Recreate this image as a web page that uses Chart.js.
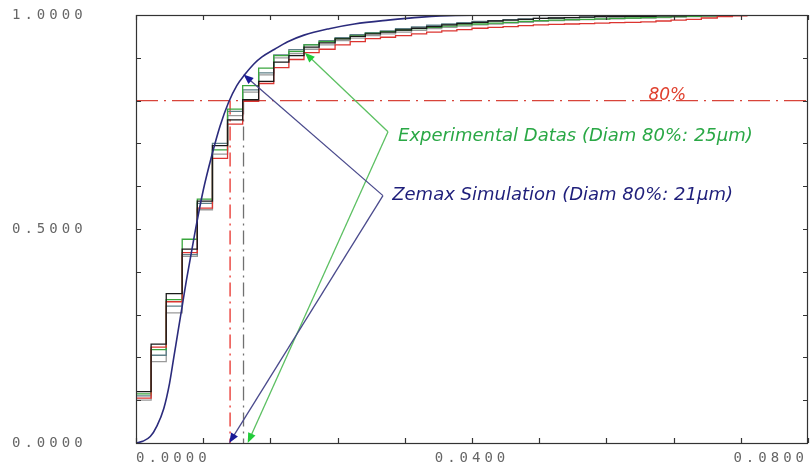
<!DOCTYPE html>
<html>
<head>
<meta charset="utf-8">
<script src="https://cdn.jsdelivr.net/npm/chart.js@4.4.0/dist/chart.umd.min.js"></script>
<style>
html, body { margin: 0; padding: 0; background: #fff; }
</style>
</head>
<body>
<canvas id="encircled" width="810" height="471"></canvas>
<script>
// x axis : radius, step edges of the measured curves
const stepX = [0, 0.0018, 0.0036, 0.0055, 0.0073, 0.0091, 0.0109, 0.0127, 0.0146, 0.0164,
	0.0182, 0.0200, 0.0218, 0.0237, 0.0255, 0.0273, 0.0291, 0.0309, 0.0328, 0.0346,
	0.0364, 0.0382, 0.0400, 0.0419, 0.0437, 0.0455, 0.0473, 0.0491, 0.0510, 0.0528,
	0.0546, 0.0564, 0.0582, 0.0601, 0.0619, 0.0637, 0.0655, 0.0673, 0.0692, 0.0710, 0.0728];

// y axis : measured encircled energy, one value per step
const expBlack = [0.12, 0.231, 0.349, 0.453, 0.565, 0.695, 0.755, 0.802, 0.845, 0.89,
	0.905, 0.925, 0.935, 0.944, 0.95, 0.956, 0.96, 0.965, 0.969, 0.973,
	0.977, 0.98, 0.983, 0.986, 0.988, 0.99, 0.992, 0.993, 0.994, 0.995,
	0.996, 0.996, 0.997, 0.997, 0.998, 0.998, 0.999, 0.999, 1.0, 1.0];
const expRed = [0.105, 0.224, 0.33, 0.445, 0.549, 0.665, 0.745, 0.798, 0.84, 0.877,
	0.896, 0.912, 0.92, 0.93, 0.938, 0.945, 0.948, 0.952, 0.956, 0.96,
	0.963, 0.966, 0.969, 0.971, 0.973, 0.975, 0.977, 0.978, 0.979, 0.98,
	0.981, 0.982, 0.983, 0.984, 0.986, 0.988, 0.99, 0.993, 0.996, 0.998];
const expGreen = [0.115, 0.218, 0.335, 0.476, 0.57, 0.685, 0.78, 0.835, 0.876, 0.905,
	0.915, 0.93, 0.938, 0.945, 0.951, 0.957, 0.961, 0.965, 0.968, 0.971,
	0.974, 0.977, 0.979, 0.981, 0.983, 0.985, 0.987, 0.988, 0.989, 0.99,
	0.991, 0.992, 0.993, 0.994, 0.995, 0.996, 0.997, 0.998, 0.999, 1.0];
const expGray = [0.10, 0.19, 0.304, 0.436, 0.545, 0.675, 0.765, 0.82, 0.86, 0.90,
	0.91, 0.92, 0.93, 0.94, 0.946, 0.952, 0.956, 0.96, 0.964, 0.968,
	0.971, 0.974, 0.977, 0.979, 0.981, 0.983, 0.985, 0.987, 0.988, 0.989,
	0.99, 0.991, 0.992, 0.993, 0.994, 0.995, 0.996, 0.997, 0.998, 0.999];
const expSlate = [0.11, 0.205, 0.32, 0.44, 0.56, 0.70, 0.775, 0.825, 0.865, 0.907,
	0.919, 0.931, 0.94, 0.947, 0.954, 0.959, 0.963, 0.968, 0.972, 0.976,
	0.979, 0.982, 0.985, 0.987, 0.989, 0.991, 0.992, 0.993, 0.994, 0.995,
	0.996, 0.996, 0.997, 0.997, 0.998, 0.998, 0.999, 0.999, 1.0, 1.0];

// Zemax simulation curve
const simX = [0, 0.0008, 0.0017, 0.0025, 0.0033, 0.004, 0.0045, 0.005, 0.0055, 0.006,
	0.007, 0.008, 0.009, 0.010, 0.011, 0.012, 0.013, 0.014, 0.015, 0.0165,
	0.018, 0.020, 0.023, 0.026, 0.030, 0.034, 0.038, 0.045, 0.056];
const simY = [0, 0.004, 0.015, 0.04, 0.08, 0.14, 0.20, 0.26, 0.32, 0.38,
	0.49, 0.59, 0.67, 0.74, 0.795, 0.835, 0.862, 0.885, 0.902, 0.92,
	0.937, 0.953, 0.968, 0.979, 0.988, 0.995, 0.999, 1.0, 1.0];

// labelled ticks
const xTickLabels = [0, 0.04, 0.08];
const yTickLabels = [0, 0.5, 1.0];

// annotation anchors (data units)
const level80 = 0.8;
const simDiamX = 0.0112;
const expDiamX = 0.0128;
const expVertex = [0.0300, 0.727];
const expTipTop = [0.0201, 0.912];
const expTipBottom = [0.0133, 0.0];
const simVertex = [0.0294, 0.578];
const simTipTop = [0.0128, 0.861];
const simTipBottom = [0.0111, 0.0];
const expText = [0.0312, 0.716, 'Experimental Datas (Diam 80%: 25µm)'];
const simText = [0.0305, 0.578, 'Zemax Simulation (Diam 80%: 21µm)'];
const pctText = [0.0610, 0.812, '80%'];

function stepPoints(ys) {
	let pts = ys.map(function(y, i) {
		return { x: stepX[i], y: y };
	});
	pts.push({ x: stepX[ys.length], y: ys[ys.length - 1] });
	return pts;
}

function stepSet(ys, color) {
	return {
		data: stepPoints(ys),
		borderColor: color,
		borderWidth: 1.3,
		pointRadius: 0,
		stepped: 'before',
		fill: false
	};
}

function nearIn(list, v) {
	return list.some(function(t) { return Math.abs(t - v) < 1e-6; });
}

function drawArrow(ctx, x0, y0, x1, y1, lineColor, headColor) {
	let a = Math.atan2(y1 - y0, x1 - x0);
	let L = 10, W = 4;
	ctx.strokeStyle = lineColor;
	ctx.lineWidth = 1.3;
	ctx.beginPath();
	ctx.moveTo(x0, y0);
	ctx.lineTo(x1 - L * 0.6 * Math.cos(a), y1 - L * 0.6 * Math.sin(a));
	ctx.stroke();
	ctx.fillStyle = headColor;
	ctx.beginPath();
	ctx.moveTo(x1, y1);
	ctx.lineTo(x1 - L * Math.cos(a) + W * Math.sin(a), y1 - L * Math.sin(a) - W * Math.cos(a));
	ctx.lineTo(x1 - L * Math.cos(a) - W * Math.sin(a), y1 - L * Math.sin(a) + W * Math.cos(a));
	ctx.closePath();
	ctx.fill();
}

const decoPlugin = {
	id: 'deco',
	beforeDraw: function(chart) {
		chart.ctx.letterSpacing = '4px';
	},
	beforeDatasetsDraw: function(chart) {
		let ctx = chart.ctx, a = chart.chartArea;
		let xs = chart.scales.x, ys = chart.scales.y;
		ctx.letterSpacing = '0px';
		ctx.save();
		ctx.lineWidth = 1.3;
		// 80% level
		ctx.strokeStyle = '#d8443a';
		ctx.setLineDash([22, 6, 2, 6]);
		ctx.beginPath();
		ctx.moveTo(a.left, ys.getPixelForValue(level80));
		ctx.lineTo(a.right, ys.getPixelForValue(level80));
		ctx.stroke();
		// diameters at 80%
		ctx.setLineDash([14, 5, 2, 5]);
		ctx.strokeStyle = '#e8302a';
		ctx.beginPath();
		ctx.moveTo(xs.getPixelForValue(simDiamX), ys.getPixelForValue(level80));
		ctx.lineTo(xs.getPixelForValue(simDiamX), a.bottom);
		ctx.stroke();
		ctx.strokeStyle = '#707070';
		ctx.beginPath();
		ctx.moveTo(xs.getPixelForValue(expDiamX), ys.getPixelForValue(level80));
		ctx.lineTo(xs.getPixelForValue(expDiamX), a.bottom);
		ctx.stroke();
		ctx.restore();
	},
	afterDatasetsDraw: function(chart) {
		let ctx = chart.ctx, a = chart.chartArea;
		let xs = chart.scales.x, ys = chart.scales.y;
		ctx.save();
		ctx.letterSpacing = '0px';
		// frame
		ctx.strokeStyle = '#333';
		ctx.lineWidth = 1.2;
		ctx.strokeRect(Math.round(a.left) + 0.5, Math.round(a.top) + 0.5,
			Math.round(a.right - a.left) - 1, Math.round(a.bottom - a.top));
		// inward ticks on all sides
		ctx.beginPath();
		xs.ticks.forEach(function(t) {
			let px = Math.round(xs.getPixelForValue(t.value)) + 0.5;
			ctx.moveTo(px, a.bottom); ctx.lineTo(px, a.bottom - 5);
			ctx.moveTo(px, a.top); ctx.lineTo(px, a.top + 5);
		});
		ys.ticks.forEach(function(t) {
			let py = Math.round(ys.getPixelForValue(t.value)) + 0.5;
			ctx.moveTo(a.left, py); ctx.lineTo(a.left + 5, py);
			ctx.moveTo(a.right, py); ctx.lineTo(a.right - 5, py);
		});
		ctx.stroke();

		function P(p) { return [xs.getPixelForValue(p[0]), ys.getPixelForValue(p[1])]; }
		let ev = P(expVertex), et = P(expTipTop), eb = P(expTipBottom);
		let sv = P(simVertex), st = P(simTipTop), sb = P(simTipBottom);
		drawArrow(ctx, ev[0], ev[1], et[0], et[1], '#5cc062', '#22cc3a');
		drawArrow(ctx, ev[0], ev[1], eb[0], eb[1], '#5cc062', '#22cc3a');
		drawArrow(ctx, sv[0], sv[1], st[0], st[1], '#4a4a8c', '#1a1a96');
		drawArrow(ctx, sv[0], sv[1], sb[0], sb[1], '#4a4a8c', '#1a1a96');

		ctx.textBaseline = 'middle';
		ctx.textAlign = 'left';
		ctx.font = 'italic 18px "DejaVu Sans"';
		ctx.fillStyle = '#2aa846';
		ctx.fillText(expText[2], xs.getPixelForValue(expText[0]), ys.getPixelForValue(expText[1]));
		ctx.fillStyle = '#1e1e7a';
		ctx.fillText(simText[2], xs.getPixelForValue(simText[0]), ys.getPixelForValue(simText[1]));
		ctx.font = 'italic 17px "DejaVu Sans"';
		ctx.fillStyle = '#e0402e';
		ctx.fillText(pctText[2], xs.getPixelForValue(pctText[0]), ys.getPixelForValue(pctText[1]));
		ctx.restore();
	}
};

new Chart(document.getElementById('encircled').getContext('2d'), {
	type: 'line',
	data: {
		datasets: [
			{
				data: simX.map(function(x, i) { return { x: x, y: simY[i] }; }),
				borderColor: '#2b2b7c',
				borderWidth: 1.6,
				pointRadius: 0,
				cubicInterpolationMode: 'monotone',
				fill: false
			},
			stepSet(expBlack, '#1a1a1a'),
			stepSet(expRed, '#dc3430'),
			stepSet(expGreen, '#3aa63e'),
			stepSet(expSlate, '#5f8088'),
			stepSet(expGray, '#9a9a9a')
		]
	},
	options: {
		responsive: false,
		animation: false,
		layout: { padding: { top: 15, right: 2, bottom: 0, left: 12 } },
		plugins: {
			legend: { display: false },
			tooltip: { enabled: false }
		},
		scales: {
			x: {
				type: 'linear',
				min: 0,
				max: 0.08,
				grid: { display: false, drawTicks: false },
				border: { display: false },
				afterFit: function(scale) { scale.height = 28; },
				ticks: {
					stepSize: 0.008,
					autoSkip: false,
					maxRotation: 0,
					align: 'inner',
					padding: 0,
					color: '#666',
					font: { family: '"DejaVu Sans Mono", monospace', size: 14, lineHeight: 2.2 },
					callback: function(v) { return nearIn(xTickLabels, v) ? v.toFixed(4) : ''; }
				}
			},
			y: {
				type: 'linear',
				min: 0,
				max: 1,
				grid: { display: false, drawTicks: false },
				border: { display: false },
				afterFit: function(scale) { scale.width = 124; },
				ticks: {
					stepSize: 0.1,
					autoSkip: false,
					padding: 0,
					crossAlign: 'far',
					color: '#666',
					font: { family: '"DejaVu Sans Mono", monospace', size: 14 },
					callback: function(v) { return nearIn(yTickLabels, v) ? v.toFixed(4) : ''; }
				}
			}
		}
	},
	plugins: [decoPlugin]
});
</script>
</body>
</html>
